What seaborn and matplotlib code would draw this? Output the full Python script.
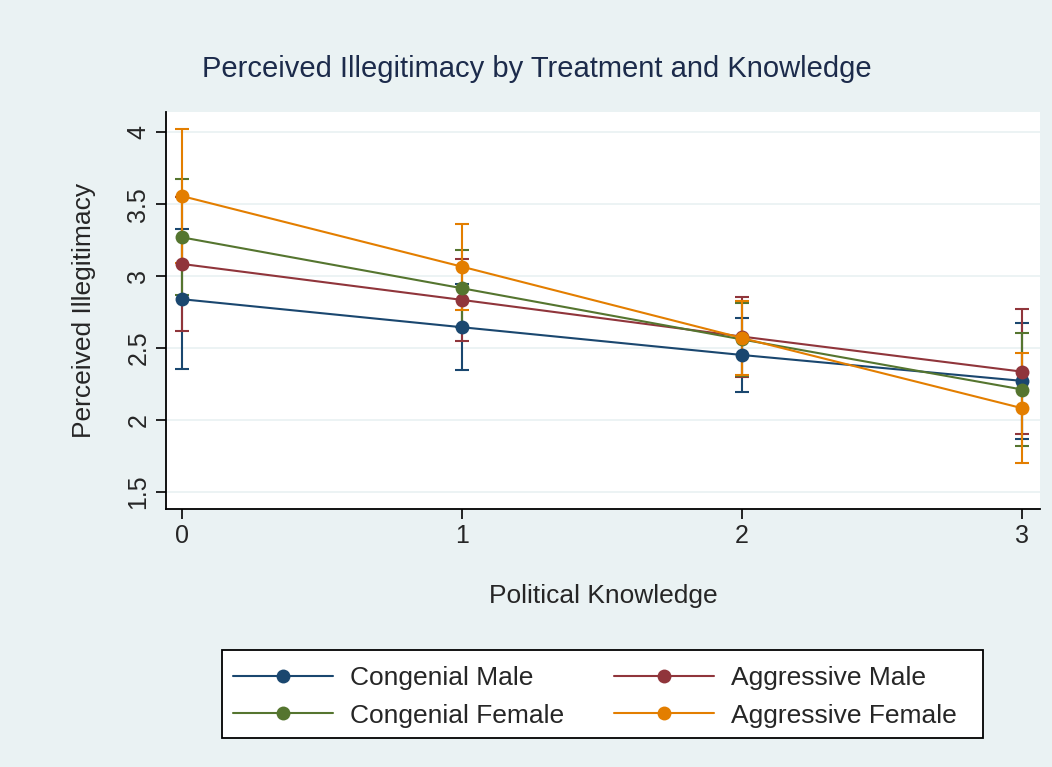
import numpy as np
import pandas as pd
import matplotlib
matplotlib.use("Agg")
import matplotlib.pyplot as plt
from matplotlib.lines import Line2D
from matplotlib.patches import Rectangle
import seaborn as sns

# ------------------------------------------------------------
# Data (means and CI half-widths)
# ------------------------------------------------------------
knowledge = [0, 1, 2, 3]
groups = ["Congenial Male", "Aggressive Male", "Congenial Female", "Aggressive Female"]

congenial_male = [2.84, 2.645, 2.452, 2.272]
aggressive_male = [3.085, 2.835, 2.58, 2.336]
congenial_female = [3.27, 2.916, 2.56, 2.212]
aggressive_female = [3.557, 3.066, 2.57, 2.082]

congenial_male_err = [0.485, 0.30, 0.26, 0.405]
aggressive_male_err = [0.464, 0.284, 0.278, 0.435]
congenial_female_err = [0.403, 0.266, 0.255, 0.39]
aggressive_female_err = [0.466, 0.298, 0.26, 0.382]

colors = ["#1A476F", "#90353B", "#55752F", "#E37E00"]

df = pd.DataFrame({
    "knowledge": knowledge * 4,
    "group": np.repeat(groups, 4),
    "mean": congenial_male + aggressive_male + congenial_female + aggressive_female,
    "err": congenial_male_err + aggressive_male_err + congenial_female_err + aggressive_female_err,
})

# ------------------------------------------------------------
# Figure setup
# ------------------------------------------------------------
sns.set_style("white")
plt.rcParams["font.family"] = ["Liberation Sans", "DejaVu Sans"]

bg = "#EAF2F3"
W, H = 1052, 767
fig = plt.figure(figsize=(W / 100, H / 100), dpi=100, facecolor=bg)
ax = fig.add_axes([0.1575, 0.3364, 0.8311, 0.518])
ax.set_facecolor("white")

# confidence interval caps first, then the connected means on top
for g, c in zip(groups, colors):
    sub = df[df["group"] == g]
    ax.errorbar(sub["knowledge"], sub["mean"], yerr=sub["err"], fmt="none",
                ecolor=c, elinewidth=1.5, capsize=4.7, capthick=1.5, zorder=2)

sns.lineplot(data=df, x="knowledge", y="mean", hue="group", hue_order=groups,
             palette=colors, marker="o", markersize=10, markeredgewidth=0,
             linewidth=1.5, legend=False, ax=ax, zorder=3)

# axes
ax.set_xlim(-0.057, 3.063)
ax.set_ylim(1.382, 4.143)
ax.set_xticks(knowledge)
ax.set_yticks([1.5, 2, 2.5, 3, 3.5, 4])
ax.set_yticklabels(["1.5", "2", "2.5", "3", "3.5", "4"], rotation=90, va="center")
ax.tick_params(axis="both", direction="out", length=7, width=1.2, color="black",
               labelsize=18, pad=4, left=True, bottom=True)
ax.yaxis.grid(True, color=bg, linewidth=1.3)
ax.set_axisbelow(True)

for side in ["top", "right"]:
    ax.spines[side].set_visible(False)
for side in ["left", "bottom"]:
    ax.spines[side].set_color("black")
    ax.spines[side].set_linewidth(1.3)

ax.set_xlabel("Political Knowledge", fontsize=19, labelpad=26)
ax.set_ylabel("Perceived Illegitimacy", fontsize=19, labelpad=22)

fig.text(0.51, 1 - 69 / H, "Perceived Illegitimacy by Treatment and Knowledge",
         ha="center", va="center", fontsize=21, color="#1C2B4B")

# legend box drawn separately so the padding matches the reference
fig.patches.append(Rectangle((222 / W, 1 - 738 / H), 761 / W, 88 / H,
                             transform=fig.transFigure, facecolor="white",
                             edgecolor="black", linewidth=1.3, zorder=1))

# legend (column-major order so rows read Male / Female)
handles = [Line2D([0], [0], color=c, lw=1.5, marker="o", markersize=10,
                  markeredgewidth=0) for c in colors]
order = [0, 2, 1, 3]
leg = fig.legend([handles[i] for i in order], [groups[i] for i in order],
                 ncol=2, loc="center left", bbox_to_anchor=(233 / W, 1 - 697 / H),
                 fontsize=19, frameon=False, handlelength=3.8,
                 handletextpad=0.65, borderpad=0, labelspacing=0.5,
                 columnspacing=1.87, borderaxespad=0)
leg.set_zorder(5)

fig.savefig("out.png", dpi=100, facecolor=bg)
